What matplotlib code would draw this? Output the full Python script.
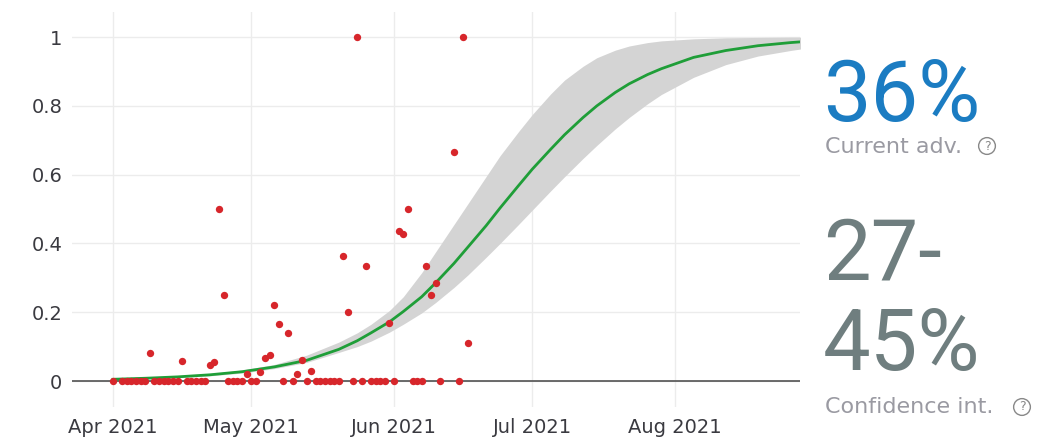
import numpy as np
import pandas as pd
import matplotlib
matplotlib.use('Agg')
import matplotlib.pyplot as plt
import matplotlib.dates as mdates
from matplotlib import font_manager

# days counted from 1 Apr 2021
start = pd.Timestamp('2021-04-01')

point_day = [0, 2, 3, 4, 5, 6, 7, 8, 9, 10, 11, 12, 13, 14, 15, 16, 17, 18, 19, 20,
             21, 22, 23, 24, 25, 26, 27, 28, 29, 30, 31, 32, 33, 34, 35, 36, 37, 38, 39, 40,
             41, 42, 43, 44, 45, 46, 47, 48, 49, 50, 51, 52, 53, 54, 55, 56, 57, 58, 59, 60,
             61, 62, 63, 64, 65, 66, 67, 68, 69, 70, 71, 74, 75, 76, 77]
point_value = [0, 0, 0, 0, 0, 0, 0, 0.082, 0, 0, 0, 0, 0, 0, 0.058, 0, 0, 0, 0, 0,
               0.046, 0.056, 0.5, 0.25, 0, 0, 0, 0, 0.021, 0, 0, 0.027, 0.068, 0.077, 0.221, 0.166, 0, 0.141, 0, 0.02,
               0.06, 0, 0.03, 0, 0, 0, 0, 0, 0, 0.363, 0.2, 0, 1.0, 0, 0.333, 0, 0, 0, 0, 0.168,
               0, 0.437, 0.428, 0.5, 0, 0, 0, 0.333, 0.25, 0.285, 0, 0.666, 0, 1.0, 0.111]

# fitted curve and confidence band
curve_day = [0, 7, 14, 21, 28, 35, 42, 49, 53, 56, 60, 63, 67, 70, 74, 77, 81, 84, 88, 91,
             95, 98, 102, 105, 109, 112, 116, 119, 126, 133, 140, 147, 150]
curve_mid = [0.005, 0.008, 0.012, 0.018, 0.027, 0.041, 0.060, 0.092, 0.117, 0.140, 0.172, 0.202,
             0.245, 0.285, 0.342, 0.389, 0.452, 0.503, 0.568, 0.616, 0.674, 0.716, 0.766, 0.800,
             0.839, 0.864, 0.891, 0.908, 0.941, 0.961, 0.975, 0.984, 0.987]
curve_lo = [0.004, 0.006, 0.010, 0.015, 0.023, 0.036, 0.054, 0.083, 0.100, 0.116, 0.142, 0.165,
            0.198, 0.228, 0.272, 0.308, 0.360, 0.400, 0.455, 0.497, 0.553, 0.594, 0.647, 0.685,
            0.733, 0.766, 0.806, 0.833, 0.883, 0.920, 0.945, 0.961, 0.967]
curve_hi = [0.006, 0.009, 0.014, 0.021, 0.032, 0.048, 0.075, 0.113, 0.140, 0.165, 0.205, 0.245,
            0.315, 0.375, 0.455, 0.515, 0.595, 0.655, 0.725, 0.775, 0.835, 0.875, 0.915, 0.940,
            0.962, 0.974, 0.984, 0.989, 0.995, 0.998, 0.999, 1.0, 1.0]

month_ticks = ['2021-04-01', '2021-05-01', '2021-06-01', '2021-07-01', '2021-08-01']
y_ticks = [0, 0.2, 0.4, 0.6, 0.8, 1]
y_labels = ['0', '0.2', '0.4', '0.6', '0.8', '1']

current_adv = '36%'
ci_text = ['27-', '45%']


def pick_font(names):
    for n in names:
        try:
            font_manager.findfont(n, fallback_to_default=False)
            return n
        except ValueError:
            pass
    return 'DejaVu Sans'


big_font = pick_font(['Roboto', 'Liberation Sans'])

W, H = 1037, 442
fig = plt.figure(figsize=(W / 100, H / 100), dpi=100)
ax = fig.add_axes([72 / W, 1 - 407 / H, (800 - 72) / W, (407 - 12) / H])

point_dates = start + pd.to_timedelta(point_day, unit='D')
curve_dates = start + pd.to_timedelta(curve_day, unit='D')

ax.fill_between(curve_dates, curve_lo, curve_hi, color='#d4d4d4', lw=0, zorder=1)
ax.axhline(0, color='#444444', lw=1.1, zorder=1.5)
ax.plot(curve_dates, curve_mid, color='#1f9e38', lw=2.0, zorder=2)
ax.scatter(point_dates, point_value, s=28, color='#d7262b', lw=0, zorder=3)

ax.set_xlim(start - pd.Timedelta(days=8.9), start + pd.Timedelta(days=149.1))
ax.set_ylim(-0.0756, 1.073)
ax.set_xticks(pd.to_datetime(month_ticks))
ax.xaxis.set_major_formatter(mdates.DateFormatter('%b %Y'))
ax.set_yticks(y_ticks)
ax.set_yticklabels(y_labels)
ax.tick_params(length=0, labelsize=14, colors='#3a3a40')
ax.tick_params(axis='y', pad=7)
ax.tick_params(axis='x', pad=8)
ax.grid(color='#ececec', lw=1)
ax.set_axisbelow(True)
for s in ax.spines.values():
    s.set_visible(False)


def fx(x):
    return x / W


def fy(y):
    return 1 - y / H


big = dict(fontsize=61, family=big_font, fontweight='normal', va='baseline')
fig.text(fx(823), fy(121), current_adv, color='#1b7cc2', **big)
fig.text(fx(825), fy(153), 'Current adv.', fontsize=16, color='#9a9aa2', va='baseline')
fig.text(fx(987), fy(146), '?', fontsize=9, color='#888888', ha='center', va='center',
         bbox=dict(boxstyle='circle,pad=0.15', fc='none', ec='#888888', lw=1))

fig.text(fx(823), fy(280), ci_text[0], color='#6f7e7f', **big)
fig.text(fx(823), fy(370), ci_text[1], color='#6f7e7f', **big)
fig.text(fx(825), fy(413), 'Confidence int.', fontsize=16, color='#9a9aa2', va='baseline')
fig.text(fx(1022), fy(407), '?', fontsize=9, color='#888888', ha='center', va='center',
         bbox=dict(boxstyle='circle,pad=0.15', fc='none', ec='#888888', lw=1))

fig.savefig('out.png', dpi=100)
